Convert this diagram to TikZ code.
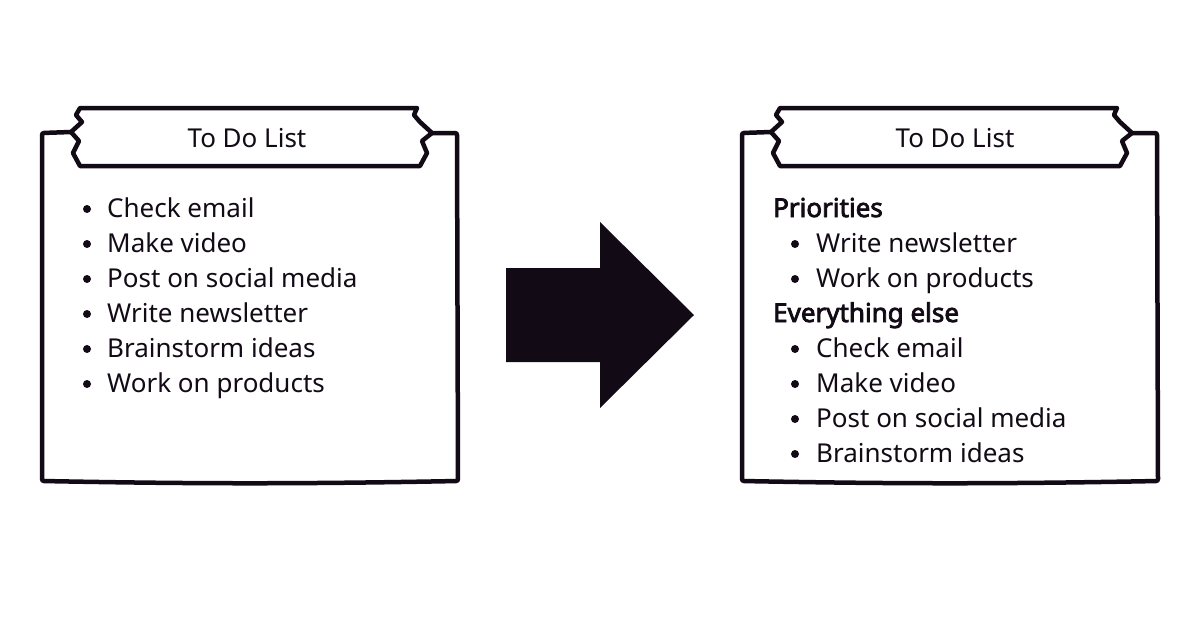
\documentclass[tikz,border=0pt]{standalone}
\usepackage{fontspec}
\setmainfont{Noto Sans}
\newfontfamily\headfont{Noto Sans}[FakeBold=3]
\definecolor{ink}{HTML}{120B16}
\tikzset{
  frame/.style={draw=ink, line width=4.5pt, line join=round, line cap=round, rounded corners=2pt},
  banner/.style={draw=ink, fill=white, line width=4.5pt, line join=round},
  title/.style={font=\fontsize{26}{30}\selectfont, text=ink, anchor=base, inner sep=0pt},
  item/.style={font=\fontsize{26}{30}\selectfont, text=ink, anchor=base west, inner sep=0pt},
  head/.style={font=\fontsize{26}{30}\selectfont\headfont, text=ink, anchor=base west, inner sep=0pt},
  dot/.style={circle, fill=ink, inner sep=0pt, minimum size=8pt},
  bigarrow/.style={fill=ink}
}
\begin{document}
\begin{tikzpicture}[x=1pt,y=-1pt]
\useasboundingbox[fill=white] (0,0) rectangle (1200,630);

% ---------- left card ----------
\begin{scope}
\draw[frame] (71,132) -- (42,133) -- (42,481) .. controls (200,484) and (300,484) .. (458,481) -- (457,133) -- (432,133);
\draw[banner] (80,108) -- (417,108) -- (414,115) -- (420,122) -- (432,133) -- (422,141) -- (427,153) -- (420,166)
  -- (80,166) -- (73,153) -- (79,141) -- (71,132) -- (82,122) -- (76,115) -- cycle;
\end{scope}
\node[title] (t1) at (247,147) {To Do List};
\foreach \y/\txt [count=\i] in {217/Check email,252/Make video,287/Post on social media,322/Write newsletter,357/Brainstorm ideas,392/Work on products}{
  \node[dot] (ld\i) at (87,\y-8) {};
  \node[item] (li\i) at (107,\y) {\txt};
}

% ---------- arrow ----------
\fill[bigarrow] (506,268) -- (600,268) -- (600,222) -- (694,315) -- (600,408) -- (600,362) -- (506,362) -- cycle;

% ---------- right card ----------
\begin{scope}[xshift=700pt]
\draw[frame] (71,132) -- (42,133) -- (42,481) .. controls (200,484) and (300,484) .. (458,481) -- (457,133) -- (432,133);
\draw[banner] (80,108) -- (417,108) -- (414,115) -- (420,122) -- (432,133) -- (422,141) -- (427,153) -- (420,166)
  -- (80,166) -- (73,153) -- (79,141) -- (71,132) -- (82,122) -- (76,115) -- cycle;
\end{scope}
\node[title] (t2) at (955,147) {To Do List};
\node[head] (h1) at (773,217) {Priorities};
\node[dot] (rd1) at (795,244) {};
\node[item] (ri1) at (816,252) {Write newsletter};
\node[dot] (rd2) at (795,279) {};
\node[item] (ri2) at (816,287) {Work on products};
\node[head] (h2) at (773,322) {Everything else};
\node[dot] (rd3) at (795,349) {};
\node[item] (ri3) at (816,357) {Check email};
\node[dot] (rd4) at (795,384) {};
\node[item] (ri4) at (816,392) {Make video};
\node[dot] (rd5) at (795,419) {};
\node[item] (ri5) at (816,427) {Post on social media};
\node[dot] (rd6) at (795,454) {};
\node[item] (ri6) at (816,462) {Brainstorm ideas};
\end{tikzpicture}
\end{document}
